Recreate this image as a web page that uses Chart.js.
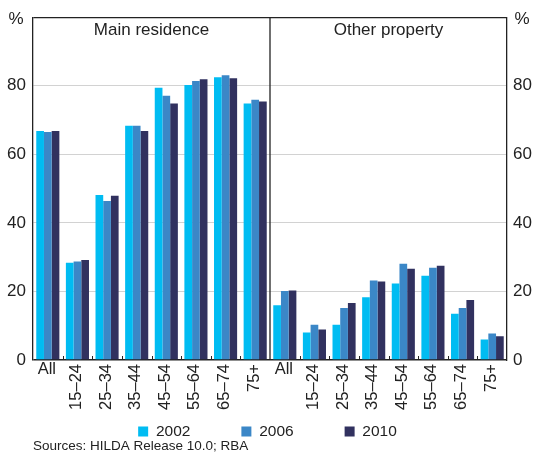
<!DOCTYPE html>
<html>
<head>
<meta charset="utf-8">
<script src="https://cdn.jsdelivr.net/npm/chart.js@4"></script>
<style>
  html, body { margin: 0; padding: 0; background: #fff; }
</style>
</head>
<body>
<canvas id="myChart" width="535" height="460"></canvas>
<script>
var ageGroups = ["All", "15–24", "25–34", "35–44", "45–54", "55–64", "65–74", "75+"];
var panels = ["Main residence", "Other property"];
var years = ["2002", "2006", "2010"];
var main2002 = [66.8, 28.4, 48.1, 68.3, 79.4, 80.2, 82.5, 74.8];
var main2006 = [66.5, 28.7, 46.4, 68.3, 77.1, 81.4, 83.1, 75.9];
var main2010 = [66.8, 29.2, 47.9, 66.8, 74.8, 81.9, 82.2, 75.4];
var other2002 = [16.0, 8.0, 10.3, 18.3, 22.3, 24.6, 13.5, 6.0];
var other2006 = [20.1, 10.3, 15.2, 23.2, 28.1, 26.9, 15.2, 7.7];
var other2010 = [20.3, 8.9, 16.6, 22.9, 26.6, 27.5, 17.5, 6.9];
var yTicks = [0, 20, 40, 60, 80, 100];
var source = "Sources: HILDA Release 10.0; RBA";

var colors = ["#00BCF2", "#3B87C7", "#31315F"];
var fontFamily = "'Liberation Sans', Arial, sans-serif";
var ink = "#222";

var panelPlugin = {
    id: 'panelPlugin',
    afterDraw: function(chart) {
        var ctx = chart.ctx, area = chart.chartArea, x = chart.scales.x;
        var half = ageGroups.length;
        var y0 = chart.scales.y.getPixelForValue(0);
        ctx.save();
        ctx.strokeStyle = ink;
        // divider between the two panels
        var mid = (x.getPixelForValue(half - 1) + x.getPixelForValue(half)) / 2;
        ctx.lineWidth = 1.3;
        ctx.beginPath();
        ctx.moveTo(mid, area.top);
        ctx.lineTo(mid, area.bottom);
        ctx.stroke();
        // small ticks between groups
        ctx.lineWidth = 1;
        for (var i = 1; i < half * 2; i++) {
            if (i === half) continue;
            var tx = Math.round((x.getPixelForValue(i - 1) + x.getPixelForValue(i)) / 2) + 0.5;
            ctx.beginPath();
            ctx.moveTo(tx, y0 - 4);
            ctx.lineTo(tx, y0);
            ctx.stroke();
        }
        ctx.fillStyle = ink;
        ctx.font = "16.5px " + fontFamily;
        chart.data.labels.forEach(function(lab, i) {
            var cx = x.getPixelForValue(i);
            if (lab === "All") {
                ctx.textAlign = 'center';
                ctx.textBaseline = 'top';
                ctx.fillText(lab, cx - 1, y0 + 1);
            } else {
                ctx.save();
                ctx.translate(cx - 1, y0 + 4);
                ctx.rotate(-Math.PI / 2);
                ctx.textAlign = 'right';
                ctx.textBaseline = 'middle';
                ctx.fillText(lab, 0, 0);
                ctx.restore();
            }
        });
        // panel titles
        ctx.font = "17px " + fontFamily;
        ctx.textAlign = 'center';
        ctx.textBaseline = 'middle';
        ctx.fillText(panels[0], (area.left + mid) / 2, area.top + 13.5);
        ctx.fillText(panels[1], (mid + area.right) / 2, area.top + 13.5);
        // units
        ctx.fillText("%", 16, 19);
        ctx.fillText("%", 522, 19);
        // sources
        ctx.textAlign = 'left';
        ctx.font = "13.5px " + fontFamily;
        ctx.fillText(source, 33, 446);
        ctx.restore();
    }
};

function gridColor(c) {
    return (c.tick.value === 0 || c.tick.value === 100) ? ink : "#d2d2d2";
}
function gridWidth(c) {
    if (c.tick.value === 0) return 1.6;
    if (c.tick.value === 100) return 1.3;
    return 1;
}
function setTicks(scale) {
    scale.ticks = yTicks.map(function(v) { return {value: v}; });
}
function tickLabel(v) {
    return v === 100 ? "" : v;
}

var ctx = document.getElementById("myChart");
var myChart = new Chart(ctx, {
    type: 'bar',
    data: {
        labels: ageGroups.concat(ageGroups),
        datasets: [
            {label: years[0], data: main2002.concat(other2002), backgroundColor: colors[0]},
            {label: years[1], data: main2006.concat(other2006), backgroundColor: colors[1]},
            {label: years[2], data: main2010.concat(other2010), backgroundColor: colors[2]}
        ]
    },
    options: {
        responsive: false,
        animation: false,
        layout: {padding: {top: 12.5, bottom: 10.75, left: 0, right: 0}},
        datasets: {bar: {categoryPercentage: 0.78, barPercentage: 1.0, borderWidth: 0}},
        plugins: {
            tooltip: {enabled: false},
            legend: {
                position: 'bottom',
                labels: {
                    boxWidth: 10,
                    boxHeight: 10,
                    padding: 51,
                    color: ink,
                    font: {size: 15.5, family: fontFamily}
                }
            }
        },
        scales: {
            x: {
                offset: true,
                grid: {display: false},
                border: {display: false},
                ticks: {display: false},
                afterFit: function(s) { s.height = 12.75; }
            },
            y: {
                position: 'left',
                min: 0,
                max: 100,
                afterBuildTicks: setTicks,
                ticks: {callback: tickLabel, padding: 7, color: ink, font: {size: 17, family: fontFamily}},
                grid: {color: gridColor, lineWidth: gridWidth, drawTicks: false},
                border: {color: ink, width: 1.3},
                afterFit: function(s) { s.width = 33; }
            },
            y2: {
                position: 'right',
                min: 0,
                max: 100,
                afterBuildTicks: setTicks,
                ticks: {callback: tickLabel, padding: 6, color: ink, font: {size: 17, family: fontFamily}},
                grid: {drawOnChartArea: false, drawTicks: false},
                border: {color: ink, width: 1.3},
                afterFit: function(s) { s.width = 28; }
            }
        }
    },
    plugins: [panelPlugin]
});
</script>
</body>
</html>
